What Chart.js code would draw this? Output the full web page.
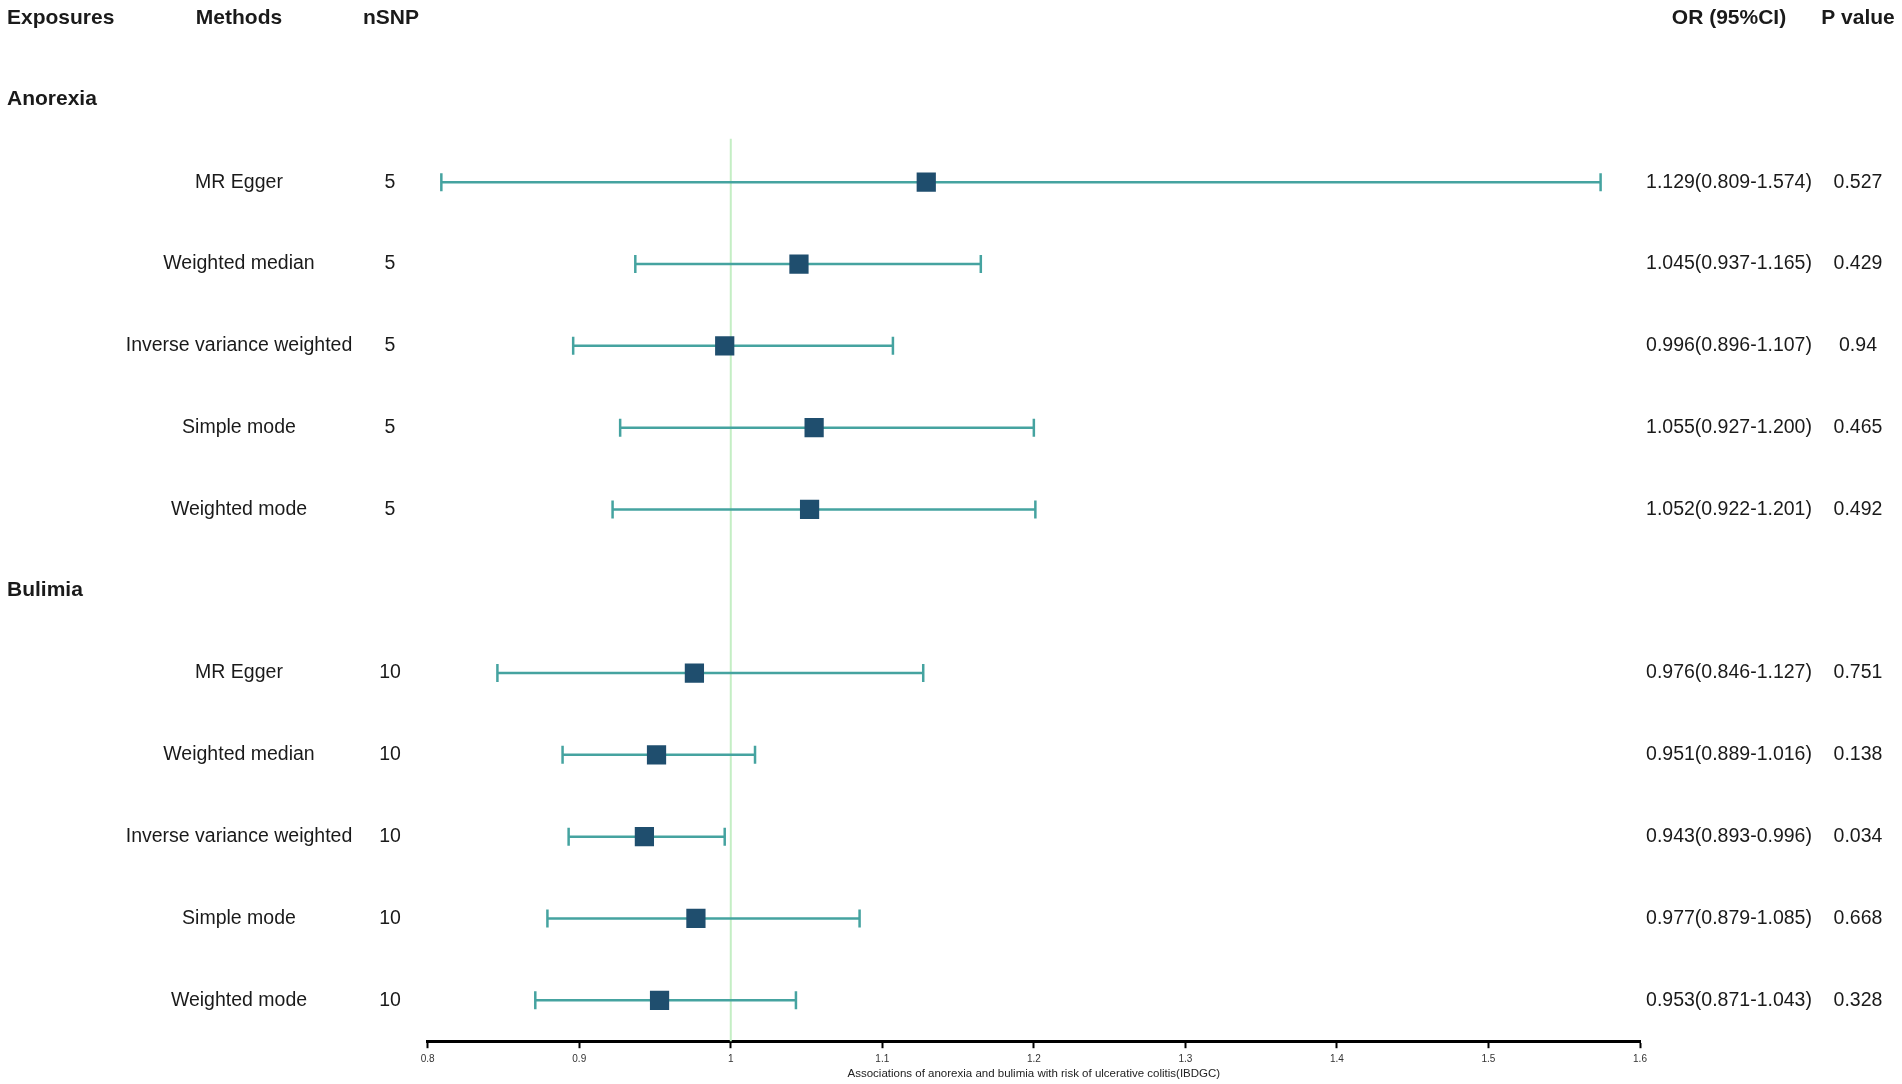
<!DOCTYPE html>
<html>
<head>
<meta charset="utf-8">
<script src="https://cdn.jsdelivr.net/npm/chart.js@4.4.1/dist/chart.umd.min.js"></script>
<style>
  html, body { margin: 0; padding: 0; background: #fff; }
  #wrap { width: 1902px; height: 1084px; position: relative; }
</style>
</head>
<body>
<div id="wrap"><canvas id="c"></canvas></div>
<script>
// ---- Data ----
const headers = ["Exposures", "Methods", "nSNP", "OR (95%CI)", "P value"];
const groups = ["Anorexia", "Bulimia"];
const methods = ["MR Egger", "Weighted median", "Inverse variance weighted", "Simple mode", "Weighted mode"];
const nsnpAnorexia = [5, 5, 5, 5, 5];
const nsnpBulimia = [10, 10, 10, 10, 10];
const orAnorexia = [1.129, 1.045, 0.996, 1.055, 1.052];
const lowAnorexia = [0.809, 0.937, 0.896, 0.927, 0.922];
const highAnorexia = [1.574, 1.165, 1.107, 1.200, 1.201];
const pAnorexia = ["0.527", "0.429", "0.94", "0.465", "0.492"];
const orBulimia = [0.976, 0.951, 0.943, 0.977, 0.953];
const lowBulimia = [0.846, 0.889, 0.893, 0.879, 0.871];
const highBulimia = [1.127, 1.016, 0.996, 1.085, 1.043];
const pBulimia = ["0.751", "0.138", "0.034", "0.668", "0.328"];
const xTicks = [0.8, 0.9, 1, 1.1, 1.2, 1.3, 1.4, 1.5, 1.6];
const xTitle = "Associations of anorexia and bulimia with risk of ulcerative colitis(IBDGC)";
const refValue = 1;

// ---- Build rows (row index: 0 header, 1 group, 2-6 methods, 7 group, 8-12 methods) ----
const rows = [];
function addGroup(name, start, ors, lows, highs, ps, nsnp) {
  rows.push({ type: "group", y: start, label: name });
  for (let i = 0; i < methods.length; i++) {
    rows.push({
      type: "row", y: start + 1 + i, method: methods[i], n: nsnp[i],
      or: ors[i], lo: lows[i], hi: highs[i], p: ps[i]
    });
  }
}
addGroup(groups[0], 1, orAnorexia, lowAnorexia, highAnorexia, pAnorexia, nsnpAnorexia);
addGroup(groups[1], 7, orBulimia, lowBulimia, highBulimia, pBulimia, nsnpBulimia);
const dataRows = rows.filter(r => r.type === "row");

const lineColor = "#45a3a0";
const boxColor = "#1f4e6e";
const refColor = "#c4eec4";

const datasets = [];
// reference line
datasets.push({
  type: "line",
  data: [{ x: refValue, y: 1.47 }, { x: refValue, y: 12.6 }],
  borderColor: refColor, borderWidth: 2, pointRadius: 0, order: 3
});
// CI lines with caps
dataRows.forEach(r => {
  datasets.push({
    type: "line",
    data: [{ x: r.lo, y: r.y }, { x: r.hi, y: r.y }],
    borderColor: lineColor, borderWidth: 2.5,
    pointStyle: "line", rotation: 90, pointRadius: 9,
    pointBorderColor: lineColor, pointBorderWidth: 2.5,
    pointHoverRadius: 9, order: 2
  });
});
// boxes
datasets.push({
  type: "scatter",
  data: dataRows.map(r => ({ x: r.or, y: r.y })),
  pointStyle: "rect", pointRadius: 13.6, pointHoverRadius: 13.6,
  backgroundColor: boxColor, borderColor: boxColor, borderWidth: 0, order: 1
});

const textPlugin = {
  id: "tableText",
  afterDraw(chart) {
    const ctx = chart.ctx;
    const ys = chart.scales.y;
    ctx.save();
    ctx.fillStyle = "#1a1a1a";
    ctx.textBaseline = "middle";
    const bold = "bold 21px 'Liberation Sans', Arial, sans-serif";
    const reg = "19.5px 'Liberation Sans', Arial, sans-serif";
    const hy = ys.getPixelForValue(0);
    ctx.font = bold;
    ctx.textAlign = "left";  ctx.fillText(headers[0], 7, hy);
    ctx.textAlign = "center";
    ctx.fillText(headers[1], 239, hy);
    ctx.fillText(headers[2], 391, hy);
    ctx.fillText(headers[3], 1729, hy);
    ctx.fillText(headers[4], 1858, hy);
    rows.forEach(r => {
      const y = ys.getPixelForValue(r.y);
      if (r.type === "group") {
        ctx.font = bold; ctx.textAlign = "left";
        ctx.fillText(r.label, 7, y - 1);
      } else {
        ctx.font = reg; ctx.textAlign = "center";
        ctx.fillText(r.method, 239, y);
        ctx.fillText(String(r.n), 390, y);
        ctx.fillText(r.or.toFixed(3) + "(" + r.lo.toFixed(3) + "-" + r.hi.toFixed(3) + ")", 1729, y);
        ctx.fillText(r.p, 1858, y);
      }
    });
    ctx.restore();
  }
};

new Chart(document.getElementById("c"), {
  data: { datasets },
  options: {
    responsive: true, maintainAspectRatio: false, animation: false,
    layout: { padding: { left: 427.7, right: 262, top: 0, bottom: 0 } },
    plugins: { legend: { display: false }, tooltip: { enabled: false } },
    events: [],
    scales: {
      x: {
        type: "linear", min: 0.8, max: 1.6,
        afterBuildTicks(scale) { scale.ticks = xTicks.map(v => ({ value: v })); },
        ticks: {
          font: { size: 10, family: "'Liberation Sans', Arial, sans-serif" },
          color: "#333", padding: 5, maxRotation: 0, autoSkip: false,
          callback: v => String(v)
        },
        grid: { drawOnChartArea: false, drawTicks: true, tickLength: 7, color: "#000", tickWidth: 2 },
        border: { display: true, color: "#000", width: 3 },
        title: {
          display: true, text: xTitle,
          font: { size: 11.5, family: "'Liberation Sans', Arial, sans-serif" },
          color: "#222", padding: { top: -3, bottom: 3 }
        }
      },
      y: {
        type: "linear", min: -0.061, max: 12.5, reverse: true, display: false
      }
    }
  },
  plugins: [textPlugin]
});
</script>
</body>
</html>
